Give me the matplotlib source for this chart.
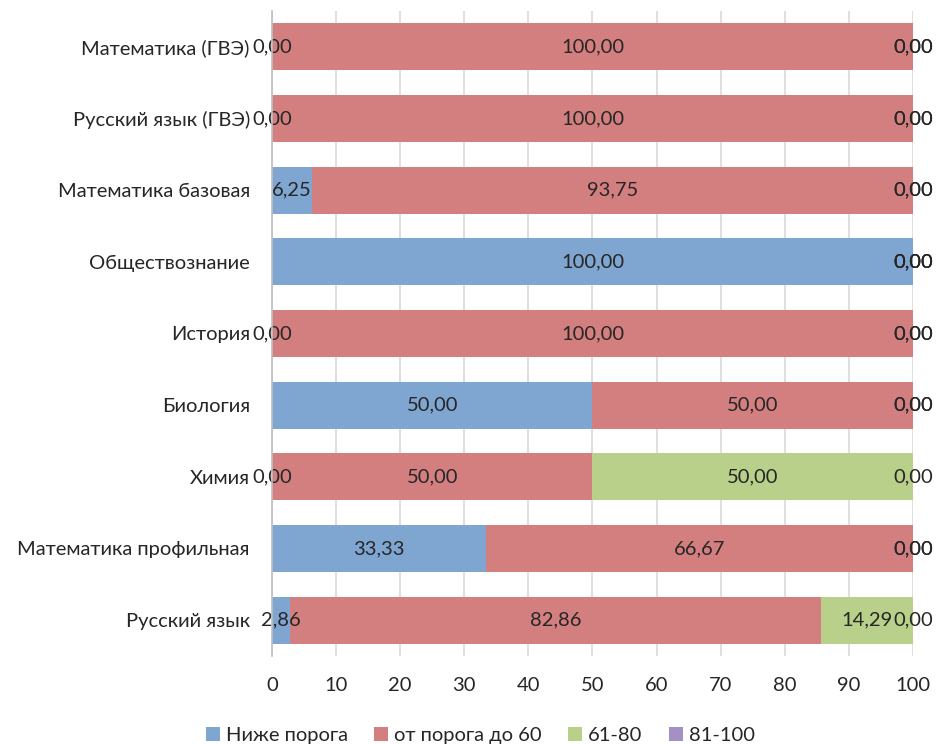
import matplotlib
matplotlib.use("Agg")
import matplotlib.pyplot as plt
from matplotlib.patches import Patch

plt.rcParams["font.family"] = ["Lato", "DejaVu Sans"]

# ── data ────────────────────────────────────────────
categories = ["Русский язык", "Математика профильная", "Химия", "Биология",
              "История", "Обществознание", "Математика базовая",
              "Русский язык (ГВЭ)", "Математика (ГВЭ)"]
below = [2.86, 33.33, 0.00, 50.00, 0.00, 100.00, 6.25, 0.00, 0.00]
to60 = [82.86, 66.67, 50.00, 50.00, 100.00, 0.00, 93.75, 100.00, 100.00]
r61_80 = [14.29, 0.00, 50.00, 0.00, 0.00, 0.00, 0.00, 0.00, 0.00]
r81_100 = [0.00, 0.00, 0.00, 0.00, 0.00, 0.00, 0.00, 0.00, 0.00]

series = [("Ниже порога", below, "#7FA5D1"),
          ("от порога до 60", to60, "#D37F7F"),
          ("61-80", r61_80, "#B9D08B"),
          ("81-100", r81_100, "#A590C4")]

FS = 14.5
TXT = "#262626"

fig = plt.figure(figsize=(9.36, 7.44), dpi=100)
ax = fig.add_axes([0.2906, 0.1183, 0.6848, 0.8669])

y = list(range(len(categories)))
left = [0.0] * len(categories)
for name, vals, col in series:
    bars = ax.barh(y, vals, left=left, height=0.66, color=col, label=name, zorder=2)
    for b, v in zip(bars, vals):
        cx = b.get_x() + b.get_width() / 2
        ax.text(cx, b.get_y() + b.get_height() / 2, f"{v:.2f}".replace(".", ","),
                ha="center", va="center", fontsize=FS, color=TXT, zorder=4)
    left = [l + v for l, v in zip(left, vals)]

ax.set_xlim(0, 100)
ax.set_ylim(-0.5, len(categories) - 0.5)
ax.set_xticks(range(0, 101, 10))
ax.set_yticks(y)
ax.set_yticklabels(categories)
ax.tick_params(axis="y", length=0, pad=16, labelsize=FS, labelcolor=TXT)
ax.tick_params(axis="x", length=0, pad=15, labelsize=FS, labelcolor=TXT)
ax.grid(axis="x", color="#D9D9D9", linewidth=1.2, zorder=3)
for s in ["top", "right", "bottom"]:
    ax.spines[s].set_visible(False)
ax.spines["left"].set_color("#BFBFBF")
ax.spines["left"].set_linewidth(1.2)
ax.spines["left"].set_zorder(5)

handles = [Patch(facecolor=c, label=n) for n, _, c in series]
fig.legend(handles=handles, loc="center", bbox_to_anchor=(0.513, 0.012),
           ncol=4, frameon=False, fontsize=FS, handlelength=0.7, handleheight=0.7,
           handletextpad=0.3, columnspacing=1.3, labelcolor=TXT)

fig.savefig("out.png", dpi=100)
